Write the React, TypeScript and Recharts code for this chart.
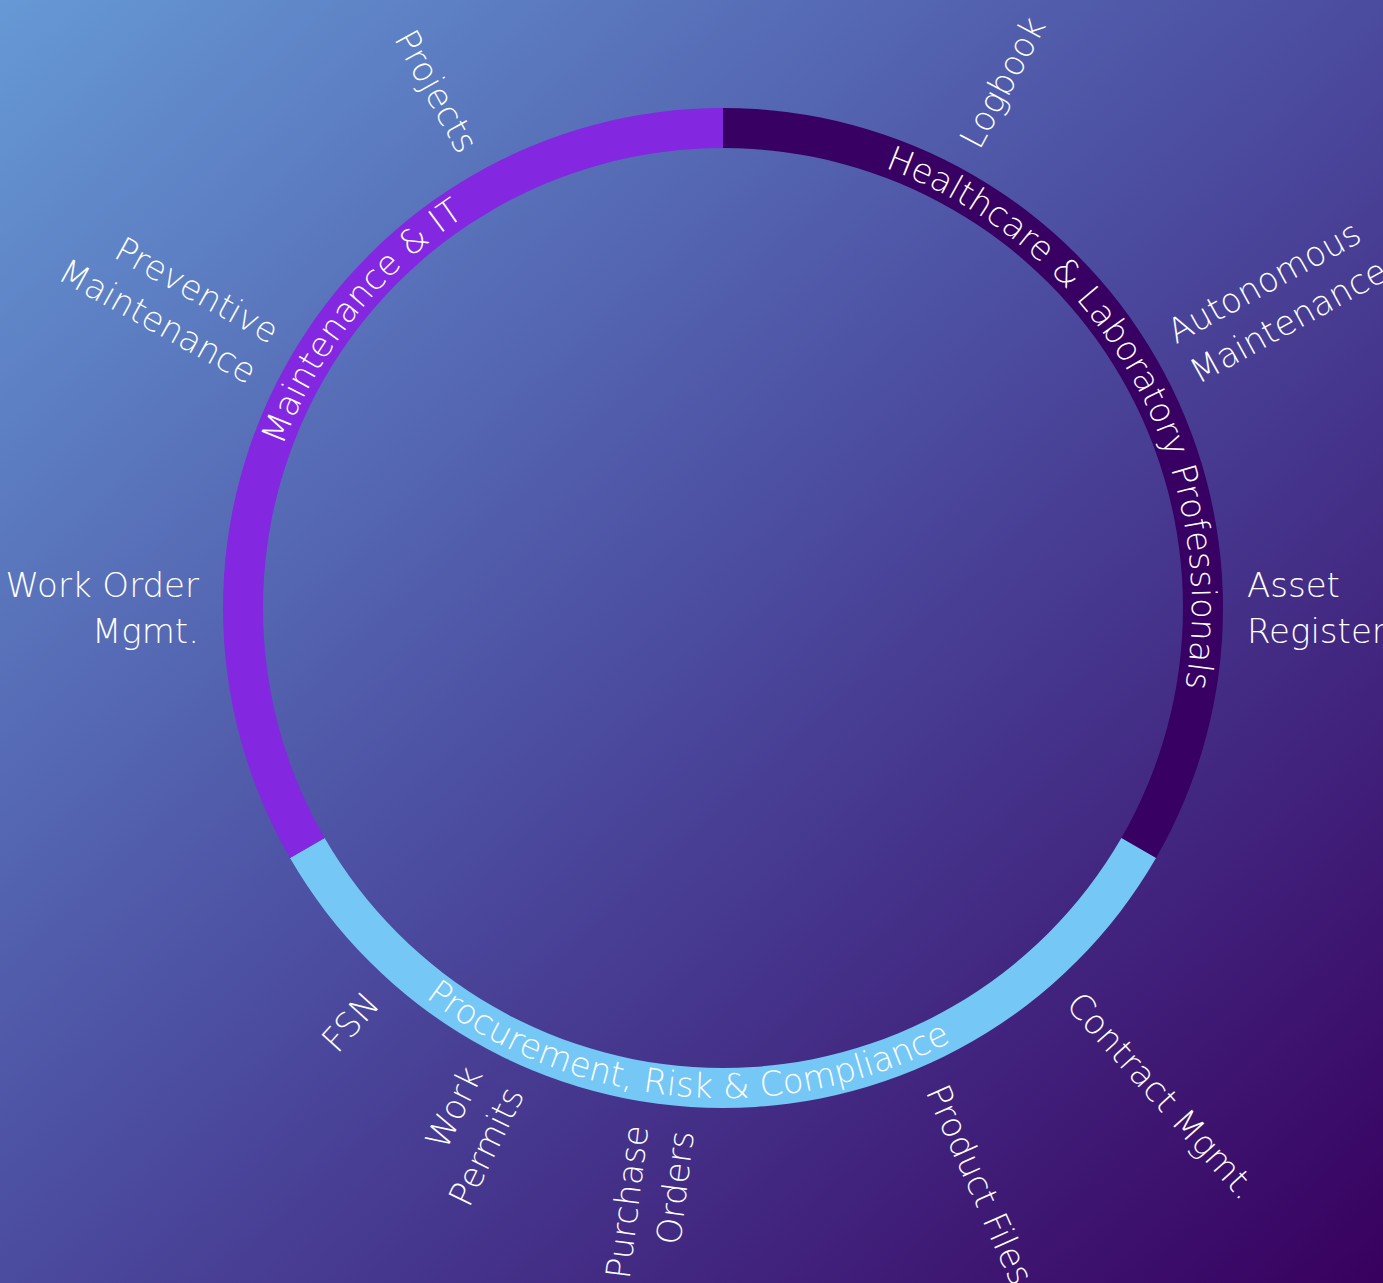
import React from 'react';
import { PieChart, Pie, Cell } from 'recharts';

// the three user groups on the ring
const segmentNames = ['Healthcare & Laboratory Professionals', 'Procurement, Risk & Compliance', 'Maintenance & IT'];
const segmentShares = [120, 120, 120];
const segmentColors = ['#380063', '#75c8f6', '#8427e0'];

// modules around the ring, clockwise, with the share of the group each one takes
const healthcareModules = ['Logbook', 'Autonomous\nMaintenance', 'Asset\nRegister'];
const healthcareWeights = [30, 36, 22];
const procurementModules = ['Contract Mgmt.', 'Product Files', 'Purchase\nOrders', 'Work\nPermits', 'FSN'];
const procurementWeights = [6, 30, 32, 6, 26];
const maintenanceModules = ['Work Order\nMgmt.', 'Preventive\nMaintenance', 'Projects'];
const maintenanceWeights = [26, 32, 32];
// empty room before / after the modules of each group
const leadGaps = [13, 15, 17];
const trailGaps = [19, 5, 13];

const FONT = "'DejaVu Sans', sans-serif";
const W = 1383;
const H = 1283;

const ringData = segmentNames.map((name, i) => ({ name, value: segmentShares[i] }));

const moduleGroups: [string[], number[]][] = [
  [healthcareModules, healthcareWeights],
  [procurementModules, procurementWeights],
  [maintenanceModules, maintenanceWeights],
];

const moduleData = moduleGroups.flatMap(([names, weights], i) => [
  { name: '', value: leadGaps[i] },
  ...names.map((n, j) => ({ name: n, value: weights[j] })),
  { name: '', value: trailGaps[i] },
]);

// clock angle: degrees clockwise from 12 o'clock
const polar = (cx: number, cy: number, r: number, clock: number) => {
  const a = (clock * Math.PI) / 180;
  return [cx + r * Math.sin(a), cy - r * Math.cos(a)];
};

const arcText = [
  { radius: 469, reverse: false, offset: '50%' },
  { radius: 490, reverse: true, offset: '46%' },
  { radius: 469, reverse: false, offset: '57%' },
];

const renderSegmentLabel = (props: any) => {
  const { cx, cy, startAngle, endAngle, index } = props;
  const name = props.payload?.name ?? props.name;
  const cfg = arcText[index];
  const a0 = 90 - startAngle;
  const a1 = 90 - endAngle;
  const from = cfg.reverse ? a1 : a0;
  const to = cfg.reverse ? a0 : a1;
  const [x0, y0] = polar(cx, cy, cfg.radius, from);
  const [x1, y1] = polar(cx, cy, cfg.radius, to);
  const d = `M ${x0} ${y0} A ${cfg.radius} ${cfg.radius} 0 0 ${cfg.reverse ? 0 : 1} ${x1} ${y1}`;
  const id = `segment-arc-${index}`;
  return (
    <g key={id}>
      <path id={id} d={d} fill="none" stroke="none" />
      <text fill="#ffffff" fontSize={34} fontFamily={FONT} fontWeight={300}>
        <textPath href={`#${id}`} startOffset={cfg.offset} textAnchor="middle">
          {name}
        </textPath>
      </text>
    </g>
  );
};

const renderModuleLabel = (props: any) => {
  const { cx, cy, midAngle, index } = props;
  const name: string = props.payload?.name ?? props.name;
  if (!name) return null;
  const clock = 90 - midAngle;
  const [x, y] = polar(cx, cy, 524, clock);
  const rightSide = clock < 180;
  const rot = rightSide ? clock - 90 : clock - 270;
  const lines = name.split('\n');
  return (
    <g key={`module-${index}`} transform={`translate(${x},${y}) rotate(${rot})`}>
      <text
        textAnchor={rightSide ? 'start' : 'end'}
        fill="#ffffff"
        fontSize={34}
        fontFamily={FONT}
        fontWeight={300}
      >
        {lines.map((line, i) => (
          <tspan key={i} x={0} y={(i - (lines.length - 1) / 2) * 46 + 12}>
            {line}
          </tspan>
        ))}
      </text>
    </g>
  );
};

export default function App() {
  return (
    <div
      style={{
        position: 'absolute',
        left: 0,
        top: 0,
        width: W,
        height: H,
        background: 'linear-gradient(to bottom right, #6699d5 0%, #4b4b9f 50%, #38005f 100%)',
      }}
    >
      <PieChart width={W} height={H} margin={{ top: 0, right: 0, bottom: 0, left: 0 }}>
        <Pie
          data={moduleData}
          dataKey="value"
          nameKey="name"
          cx={723}
          cy={608}
          innerRadius={505}
          outerRadius={520}
          startAngle={90}
          endAngle={-270}
          fill="none"
          stroke="none"
          labelLine={false}
          label={renderModuleLabel}
          isAnimationActive={false}
        />
        <Pie
          data={ringData}
          dataKey="value"
          nameKey="name"
          cx={723}
          cy={608}
          innerRadius={460}
          outerRadius={500}
          startAngle={90}
          endAngle={-270}
          stroke="none"
          labelLine={false}
          label={renderSegmentLabel}
          isAnimationActive={false}
        >
          {ringData.map((d, i) => (
            <Cell key={d.name} fill={segmentColors[i]} />
          ))}
        </Pie>
      </PieChart>
    </div>
  );
}
